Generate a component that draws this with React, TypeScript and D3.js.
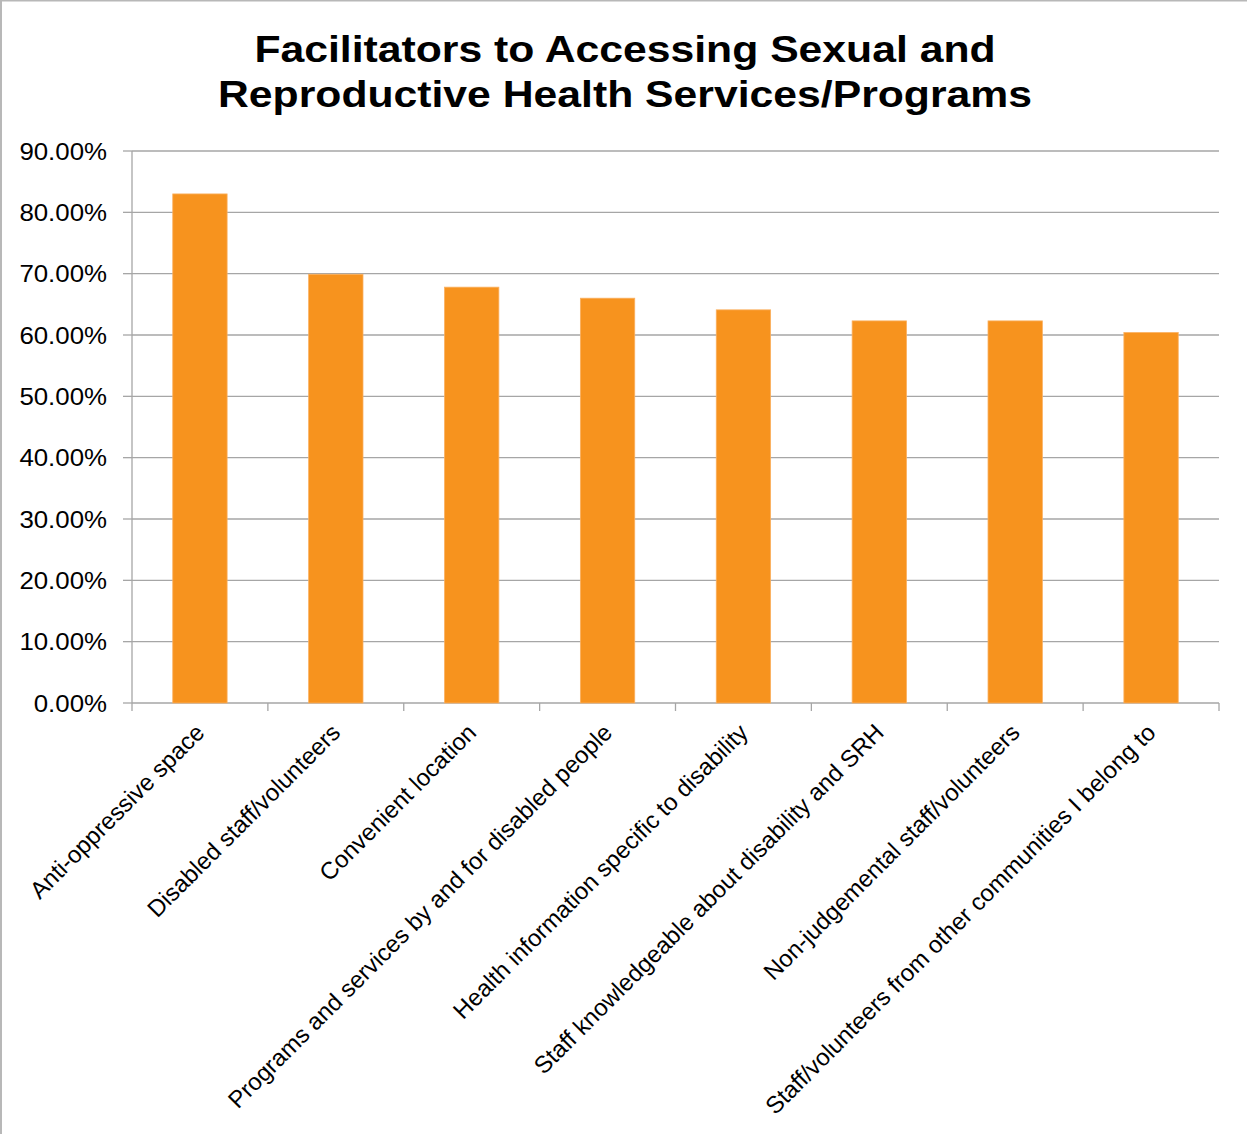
import React from "react";
import * as d3 from "d3";

const categories = [
  "Anti-oppressive space",
  "Disabled staff/volunteers",
  "Convenient location",
  "Programs and services by and for disabled people",
  "Health information specific to disability",
  "Staff knowledgeable about disability and SRH",
  "Non-judgemental staff/volunteers",
  "Staff/volunteers from other communities I belong to",
];
const values = [0.83, 0.699, 0.678, 0.66, 0.641, 0.623, 0.623, 0.604];
const yTicks = [0, 0.1, 0.2, 0.3, 0.4, 0.5, 0.6, 0.7, 0.8, 0.9];
const titleLines = [
  "Facilitators to Accessing Sexual and",
  "Reproductive Health Services/Programs",
];

const W = 1247;
const H = 1134;
const left = 132;
const right = 1219;
const top = 151;
const bottom = 703;
const FONT = "'Liberation Sans', Arial, Helvetica, sans-serif";

export default function App() {
  const x = d3
    .scaleBand<string>()
    .domain(categories)
    .range([left, right])
    .paddingInner(0.6)
    .paddingOuter(0.3);
  const step = (right - left) / categories.length;
  const y = d3.scaleLinear().domain([0, 0.9]).range([bottom, top]);
  const fmt = d3.format(".2%");
  const grid = "#a6a6a6";

  return (
    <svg
      width={W}
      height={H}
      style={{ position: "absolute", left: 0, top: 0, background: "#fff" }}
      fontFamily={FONT}
    >
      <rect x={0} y={0} width={W} height={H} fill="#fff" />
      <rect x={1} y={0.5} width={W + 20} height={H + 20} fill="none" stroke="#b8b8b8" strokeWidth={2} />
      {titleLines.map((t, i) => (
        <text
          key={i}
          transform={`translate(${625},${62 + i * 45}) scale(1.17,1)`}
          textAnchor="middle"
          fontSize={36.5}
          fontWeight="bold"
          fill="#000"
        >
          {t}
        </text>
      ))}
      {yTicks.map((t) => (
        <g key={t}>
          <line x1={left} x2={right} y1={y(t)} y2={y(t)} stroke={grid} strokeWidth={1.3} />
          <line x1={123} x2={left} y1={y(t)} y2={y(t)} stroke={grid} strokeWidth={1.3} />
          <text
            transform={`translate(107,${y(t) + 8.5}) scale(1.1,1)`}
            textAnchor="end"
            fontSize={23.5}
            fill="#000"
          >
            {fmt(t)}
          </text>
        </g>
      ))}
      <line x1={left} x2={left} y1={top} y2={bottom} stroke={grid} strokeWidth={1.3} />
      {d3.range(categories.length + 1).map((i) => (
        <line
          key={i}
          x1={left + i * step}
          x2={left + i * step}
          y1={bottom}
          y2={bottom + 8}
          stroke={grid}
          strokeWidth={1.3}
        />
      ))}
      {categories.map((c, i) => (
        <rect
          key={c}
          x={x(c)}
          y={y(values[i])}
          width={x.bandwidth()}
          height={bottom - y(values[i])}
          fill="#F7931E"
          stroke="#FAB060"
          strokeWidth={0.8}
        />
      ))}
      {categories.map((c) => {
        const cx = (x(c) as number) + x.bandwidth() / 2;
        return (
          <text
            key={c}
            transform={`translate(${cx + 6},${734}) rotate(-45)`}
            textAnchor="end"
            fontSize={23.9}
            fill="#000"
          >
            {c}
          </text>
        );
      })}
    </svg>
  );
}
